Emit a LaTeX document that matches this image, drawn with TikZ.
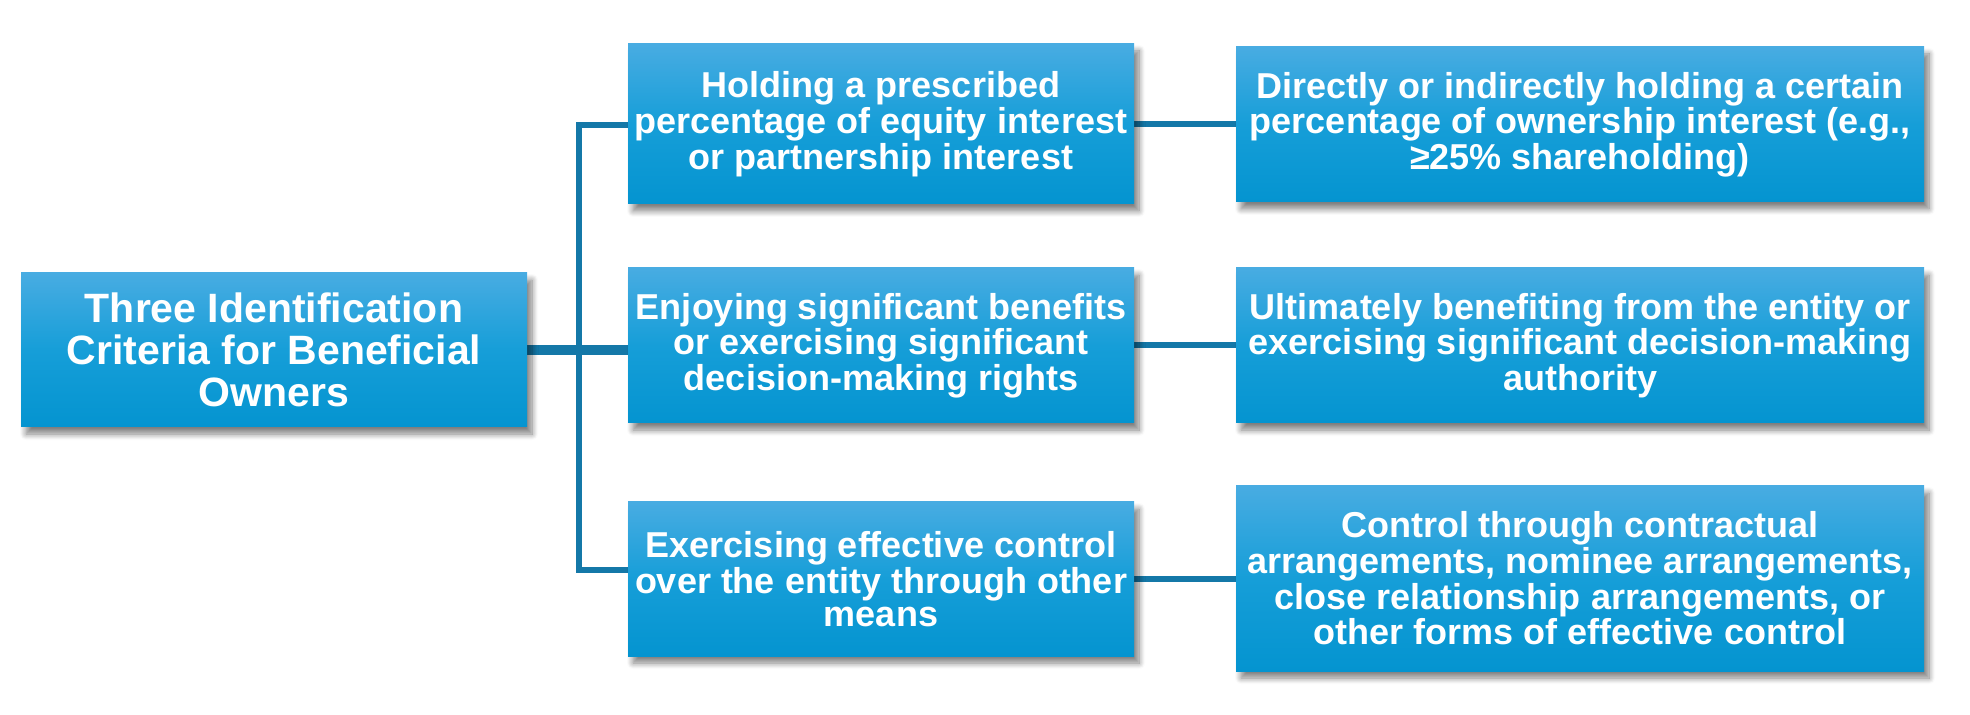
\documentclass[tikz,border=0pt]{standalone}
\usepackage{fontspec}
\setmainfont{Liberation Sans}
\usetikzlibrary{shadows.blur,backgrounds}
\definecolor{boxtop}{RGB}{72,172,226}
\definecolor{boxmid}{RGB}{22,158,216}
\definecolor{boxbot}{RGB}{4,148,208}
\definecolor{linecol}{RGB}{20,120,168}
\tikzset{
  box/.style={rectangle, inner sep=0pt, align=center, text=white,
    top color=boxtop, bottom color=boxbot, middle color=boxmid,
    font=\fontsize{18pt}{16.6pt}\selectfont\bfseries,
    blur shadow={shadow xshift=2.5pt, shadow yshift=-3.5pt, shadow blur steps=8, shadow opacity=50, shadow blur radius=3pt}},
  rootbox/.style={box, font=\fontsize{20.5pt}{21pt}\selectfont\bfseries},
  conn/.style={draw=linecol, line width=3pt},
  thickconn/.style={draw=linecol, line width=5pt}
}
\begin{document}
\begin{tikzpicture}[x=0.5pt,y=-0.5pt]
\useasboundingbox (0,0) rectangle (1970,715);
\node[rootbox, minimum width=253pt, minimum height=77pt] (root) at (274,350)
  {Three Identification\\Criteria for Beneficial\\Owners};
\node[box, minimum width=253pt, minimum height=80pt] (m1) at (881,124)
  {Holding a prescribed\\percentage of equity interest\\or partnership interest};
\node[box, minimum width=253pt, minimum height=77.5pt] (m2) at (881,345.5)
  {Enjoying significant benefits\\or exercising significant\\decision-making rights};
\node[box, minimum width=253pt, minimum height=77pt] (m3) at (881,579)
  {Exercising effective control\\over the entity through other\\means};
\node[box, minimum width=344pt, minimum height=77.5pt] (r1) at (1580,124.5)
  {Directly or indirectly holding a certain\\percentage of ownership interest (e.g.,\\≥25\% shareholding)};
\node[box, minimum width=344pt, minimum height=77.5pt] (r2) at (1580,345.5)
  {Ultimately benefiting from the entity or\\exercising significant decision-making\\authority};
\node[box, minimum width=344pt, minimum height=92.5pt] (r3) at (1580,578.5)
  {Control through contractual\\arrangements, nominee arrangements,\\close relationship arrangements, or\\other forms of effective control};
\coordinate (j1) at (579,125);
\coordinate (j3) at (579,570);
\begin{scope}[on background layer]
  \draw[conn] (m1.west |- j1) -- (j1) -- (j3) -- (m3.west |- j3);
  \draw[thickconn] (root.east) -- (root.east -| m2.west);
  \draw[conn] (m1.east) -- (m1.east -| r1.west);
  \draw[conn] (m2.east) -- (m2.east -| r2.west);
  \draw[conn] (m3.east) -- (m3.east -| r3.west);
\end{scope}
\end{tikzpicture}
\end{document}
